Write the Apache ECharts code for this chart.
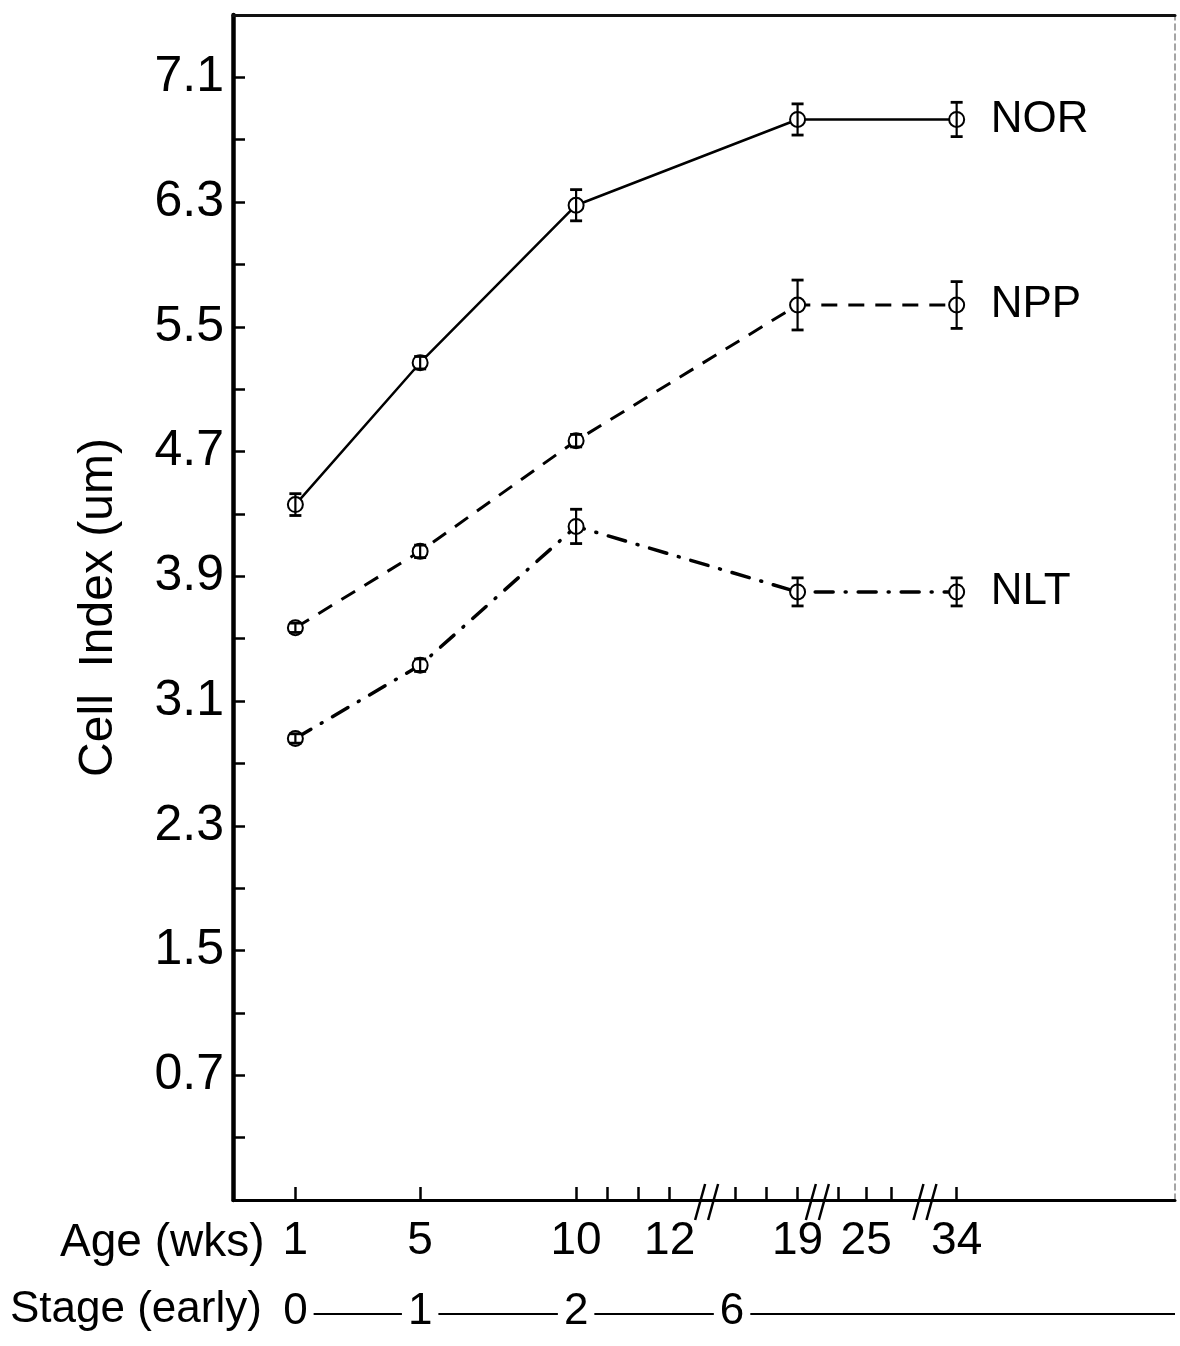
<!DOCTYPE html>
<html>
<head>
<meta charset="utf-8">
<script src="https://cdn.jsdelivr.net/npm/echarts@6/dist/echarts.min.js"></script>
<style>
  html, body { margin: 0; padding: 0; background: #fff; }
  #chart { width: 1180px; height: 1346px; }
</style>
</head>
<body>
<div id="chart"></div>
<script>
// Ages sampled and where each one sits on the broken age axis
const ages = [1, 5, 10, 19, 34];
const agePos = [1, 5, 10, 17.1, 22.2];

// Mean cell index (um) and error half-widths per group
const norMean = [4.36, 5.27, 6.28, 6.83, 6.83];
const norErr  = [0.07, 0.04, 0.10, 0.10, 0.11];
const nppMean = [3.57, 4.06, 4.77, 5.64, 5.64];
const nppErr  = [0.03, 0.04, 0.04, 0.16, 0.15];
const nltMean = [2.86, 3.33, 4.22, 3.80, 3.80];
const nltErr  = [0.03, 0.04, 0.11, 0.09, 0.09];

// Age axis ticks (positions on the broken axis) and their labels
const xTickPos  = [1, 5, 10, 11, 12, 13, 15.1, 16.1, 17.1, 18.4, 19.3, 20.1, 22.2];
const xTickText = ['1', '5', '10', '', '', '12', '', '', '19', '', '25', '', '34'];
const axisBreaks = [14.2, 17.75, 21.2];

// Cell index axis ticks and labelled values
const yTickPos  = [0.3, 0.7, 1.1, 1.5, 1.9, 2.3, 2.7, 3.1, 3.5, 3.9, 4.3, 4.7, 5.1, 5.5, 5.9, 6.3, 6.7, 7.1];
const yTickText = [0.7, 1.5, 2.3, 3.1, 3.9, 4.7, 5.5, 6.3, 7.1];

// Early stage row under the age axis
const stagePos  = [1, 5, 10, 15.0];
const stageText = ['0', '1', '2', '6'];

const X_MIN = -1, X_MAX = 29.2, Y_MIN = -0.1, Y_MAX = 7.5;
const FONT = '"Liberation Sans", Arial, Helvetica, sans-serif';

const measureCtx = document.createElement('canvas').getContext('2d');
function textWidth(t, size) {
  measureCtx.font = size + 'px ' + FONT;
  return measureCtx.measureText(t).width;
}

function pairs(means) {
  return agePos.map((p, i) => [p, means[i]]);
}

function errorSeries(means, errs) {
  return {
    type: 'custom',
    silent: true,
    z: 4,
    data: agePos.map((p, i) => [p, means[i] - errs[i], means[i] + errs[i]]),
    encode: { x: 0, y: [1, 2] },
    renderItem(params, api) {
      const lo = api.coord([api.value(0), api.value(1)]);
      const hi = api.coord([api.value(0), api.value(2)]);
      const w = 6;
      const st = { stroke: '#000', lineWidth: 2.2 };
      return {
        type: 'group',
        children: [
          { type: 'line', shape: { x1: lo[0], y1: lo[1], x2: hi[0], y2: hi[1] }, style: st },
          { type: 'line', shape: { x1: lo[0] - w, y1: lo[1], x2: lo[0] + w, y2: lo[1] }, style: { stroke: '#000', lineWidth: 2.8 } },
          { type: 'line', shape: { x1: hi[0] - w, y1: hi[1], x2: hi[0] + w, y2: hi[1] }, style: { stroke: '#000', lineWidth: 2.8 } }
        ]
      };
    }
  };
}

function lineSeries(name, means, lineStyle) {
  return {
    name: name,
    type: 'line',
    z: 3,
    data: pairs(means),
    symbol: 'emptyCircle',
    symbolSize: 15,
    itemStyle: { color: '#000', borderWidth: 2 },
    lineStyle: Object.assign({ color: '#000' }, lineStyle),
    endLabel: {
      show: true,
      formatter: '{a}',
      distance: 34,
      fontSize: 44,
      fontFamily: FONT,
      color: '#000'
    },
    silent: true,
    animation: false
  };
}

const chart = echarts.init(document.getElementById('chart'), null, { renderer: 'canvas' });

chart.setOption({
  animation: false,
  backgroundColor: '#fff',
  grid: { left: 233, right: 5, top: 15, bottom: 146, containLabel: false },
  xAxis: [
    {
      type: 'value',
      min: X_MIN,
      max: X_MAX,
      position: 'bottom',
      axisLine: { show: true, onZero: false, lineStyle: { color: '#000', width: 3 } },
      axisTick: { show: true, inside: true, length: 13, customValues: xTickPos, lineStyle: { color: '#000', width: 2.5 } },
      axisLabel: {
        show: true,
        customValues: xTickPos,
        margin: 18,
        fontSize: 46,
        fontFamily: FONT,
        color: '#000',
        formatter: v => {
          const i = xTickPos.findIndex(p => Math.abs(p - v) < 1e-6);
          return i >= 0 ? xTickText[i] : '';
        }
      },
      splitLine: { show: false }
    },
    {
      type: 'value',
      min: X_MIN,
      max: X_MAX,
      position: 'top',
      axisLine: { show: true, onZero: false, lineStyle: { color: '#111', width: 3 } },
      axisTick: { show: false },
      axisLabel: { show: false },
      splitLine: { show: false }
    }
  ],
  yAxis: [
    {
      type: 'value',
      min: Y_MIN,
      max: Y_MAX,
      position: 'left',
      name: 'Cell  Index (um)',
      nameLocation: 'middle',
      nameGap: 110,
      nameTextStyle: { fontSize: 48, fontFamily: FONT, color: '#000' },
      axisLine: { show: true, onZero: false, lineStyle: { color: '#000', width: 4.5 } },
      axisTick: { show: true, inside: true, length: 12, customValues: yTickPos, lineStyle: { color: '#000', width: 2.5 } },
      axisLabel: {
        show: true,
        customValues: yTickText,
        margin: 9,
        fontSize: 50,
        fontFamily: FONT,
        color: '#000',
        formatter: v => v.toFixed(1)
      },
      splitLine: { show: false }
    },
    {
      type: 'value',
      min: Y_MIN,
      max: Y_MAX,
      position: 'right',
      axisLine: { show: true, onZero: false, lineStyle: { color: '#888', width: 1.5, type: [6, 4] } },
      axisTick: { show: false },
      axisLabel: { show: false },
      splitLine: { show: false }
    }
  ],
  graphic: [
    {
      type: 'text',
      left: 60,
      top: 1220,
      silent: true,
      style: { text: 'Age (wks)', fontSize: 46, fontFamily: FONT, fill: '#000' }
    },
    {
      type: 'text',
      left: 10,
      top: 1288,
      silent: true,
      style: { text: 'Stage (early)', fontSize: 44, fontFamily: FONT, fill: '#000' }
    }
  ],
  series: [
    lineSeries('NOR', norMean, { width: 2.5, type: 'solid' }),
    lineSeries('NPP', nppMean, { width: 3, type: [16, 11] }),
    lineSeries('NLT', nltMean, { width: 3.5, type: [18, 12, 1, 12], cap: 'round' }),
    errorSeries(norMean, norErr),
    errorSeries(nppMean, nppErr),
    errorSeries(nltMean, nltErr),
    {
      // broken-axis slashes across the age axis
      type: 'custom',
      silent: true,
      clip: false,
      z: 6,
      data: axisBreaks.map(p => [p, Y_MIN]),
      renderItem(params, api) {
        const c = api.coord([api.value(0), api.value(1)]);
        const st = { stroke: '#000', lineWidth: 2.5 };
        return {
          type: 'group',
          children: [
            { type: 'line', shape: { x1: c[0] - 12, y1: c[1] + 20, x2: c[0] - 2, y2: c[1] - 16 }, style: st },
            { type: 'line', shape: { x1: c[0] + 1, y1: c[1] + 20, x2: c[0] + 11, y2: c[1] - 16 }, style: st }
          ]
        };
      }
    },
    {
      // stage numbers joined by rules, aligned with the ages they start at
      type: 'custom',
      silent: true,
      clip: false,
      z: 6,
      data: stagePos.map((p, i) => [p, i]),
      renderItem(params, api) {
        const i = api.value(1);
        const c = api.coord([api.value(0), Y_MIN]);
        const y = c[1] + 112;
        const size = 44;
        const half = textWidth(stageText[i], size) / 2;
        const last = i === stagePos.length - 1;
        const nextX = last ? api.coord([X_MAX, Y_MIN])[0] : api.coord([stagePos[i + 1], Y_MIN])[0];
        const nextHalf = last ? 0 : textWidth(stageText[i + 1], size) / 2;
        return {
          type: 'group',
          children: [
            {
              type: 'text',
              style: {
                text: stageText[i], x: c[0], y: y,
                align: 'center', verticalAlign: 'middle',
                fontSize: size, fontFamily: FONT, fill: '#000'
              }
            },
            {
              type: 'line',
              shape: { x1: c[0] + half + 6, y1: y + 2, x2: nextX - nextHalf - (last ? 0 : 6), y2: y + 2 },
              style: { stroke: '#000', lineWidth: 2 }
            }
          ]
        };
      }
    }
  ]
});
</script>
</body>
</html>
